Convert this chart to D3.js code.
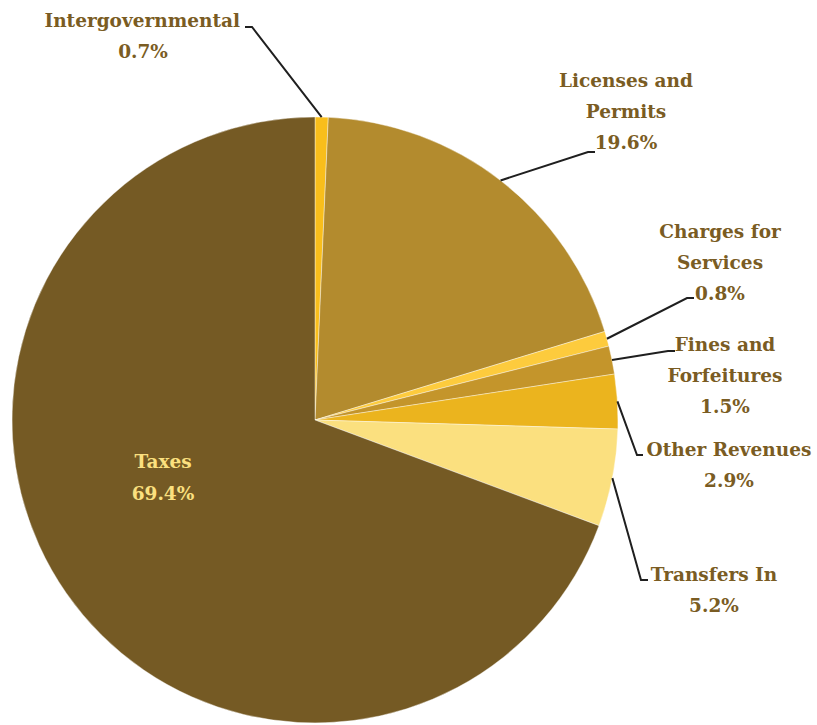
<!DOCTYPE html>
<html>
<head>
<meta charset="utf-8">
<script src="https://cdn.jsdelivr.net/npm/d3@7"></script>
<style>
  html, body { margin: 0; padding: 0; background: #fff; }
  svg { display: block; }
  text { font-family: "DejaVu Serif", "Liberation Serif", serif; font-weight: bold; }
</style>
</head>
<body>
<svg id="chart" width="817" height="725"></svg>
<script>
// Revenue sources, in clockwise order starting at twelve o'clock
const categories = ["Intergovernmental", "Licenses and Permits", "Charges for Services",
                    "Fines and Forfeitures", "Other Revenues", "Transfers In", "Taxes"];
const shares = [0.7, 19.6, 0.8, 1.5, 2.9, 5.2, 69.4];
const labelLines = [["Intergovernmental"], ["Licenses and", "Permits"], ["Charges for", "Services"],
                    ["Fines and", "Forfeitures"], ["Other Revenues"], ["Transfers In"], ["Taxes"]];
const sliceColors = ["#F9BE1B", "#B38B2E", "#FDCB3D", "#C4952B", "#EBB41E", "#FBE07F", "#755A24"];

const width = 817, height = 725;
const cx = 315, cy = 420, radius = 303;
const labelColor = "#7A5C23";
const fontSize = 18.5, lineGap = 31;

const svg = d3.select("#chart");
const g = svg.append("g").attr("transform", `translate(${cx},${cy})`);

const data = categories.map((c, i) => ({ name: c, value: shares[i], lines: labelLines[i], color: sliceColors[i] }));

const pie = d3.pie().value(d => d.value).sort(null);
const arc = d3.arc().innerRadius(0).outerRadius(radius);
const arcs = pie(data);

g.selectAll("path.slice")
  .data(arcs)
  .join("path")
  .attr("class", "slice")
  .attr("d", arc)
  .attr("fill", d => d.data.color)
  .attr("stroke", "#ffffff")
  .attr("stroke-opacity", 0.5)
  .attr("stroke-width", 0.8);

// Callout layout relative to the chart centre: elbow, end of the short horizontal run, first text baseline
const callouts = {
  "Intergovernmental":     { elbow: [-63, -393], end: [-70, -393], text: [-172, -393] },
  "Licenses and Permits":  { elbow: [273, -268], end: [280, -268], text: [311, -333] },
  "Charges for Services":  { elbow: [372, -122], end: [379, -122], text: [405, -182] },
  "Fines and Forfeitures": { elbow: [353, -69],  end: [360, -69],  text: [410, -69] },
  "Other Revenues":        { elbow: [322, 35],   end: [328, 35],   text: [414, 36] },
  "Transfers In":          { elbow: [326, 160],  end: [333, 160],  text: [399, 161] }
};

const fmt = v => d3.format(".1f")(v) + "%";

arcs.forEach(a => {
  const name = a.data.name;
  const lines = [...a.data.lines, fmt(a.data.value)];
  if (name === "Taxes") {
    const t = g.append("text")
      .attr("text-anchor", "middle")
      .attr("fill", "#FBE07F")
      .attr("font-size", fontSize);
    lines.forEach((ln, i) => {
      t.append("tspan").attr("x", -152).attr("y", 48 + i * 32).text(ln);
    });
    return;
  }
  const c = callouts[name];
  const mid = (a.startAngle + a.endAngle) / 2;
  const start = [radius * Math.sin(mid), -radius * Math.cos(mid)];
  g.append("polyline")
    .attr("points", [start, c.elbow, c.end].map(p => p.join(",")).join(" "))
    .attr("fill", "none")
    .attr("stroke", "#1f1f1f")
    .attr("stroke-width", 2);

  if (name === "Intergovernmental") {
    // name ends just left of the leader's horizontal run; percentage centred below it
    g.append("text").attr("x", c.end[0] - 5).attr("y", c.text[1]).attr("text-anchor", "end")
      .attr("fill", labelColor).attr("font-size", fontSize).text(lines[0]);
    g.append("text").attr("x", c.text[0]).attr("y", c.text[1] + lineGap).attr("text-anchor", "middle")
      .attr("fill", labelColor).attr("font-size", fontSize).text(lines[1]);
    return;
  }
  const t = g.append("text")
    .attr("text-anchor", "middle")
    .attr("fill", labelColor)
    .attr("font-size", fontSize);
  lines.forEach((ln, i) => {
    t.append("tspan").attr("x", c.text[0]).attr("y", c.text[1] + i * lineGap).text(ln);
  });
});
</script>
</body>
</html>
